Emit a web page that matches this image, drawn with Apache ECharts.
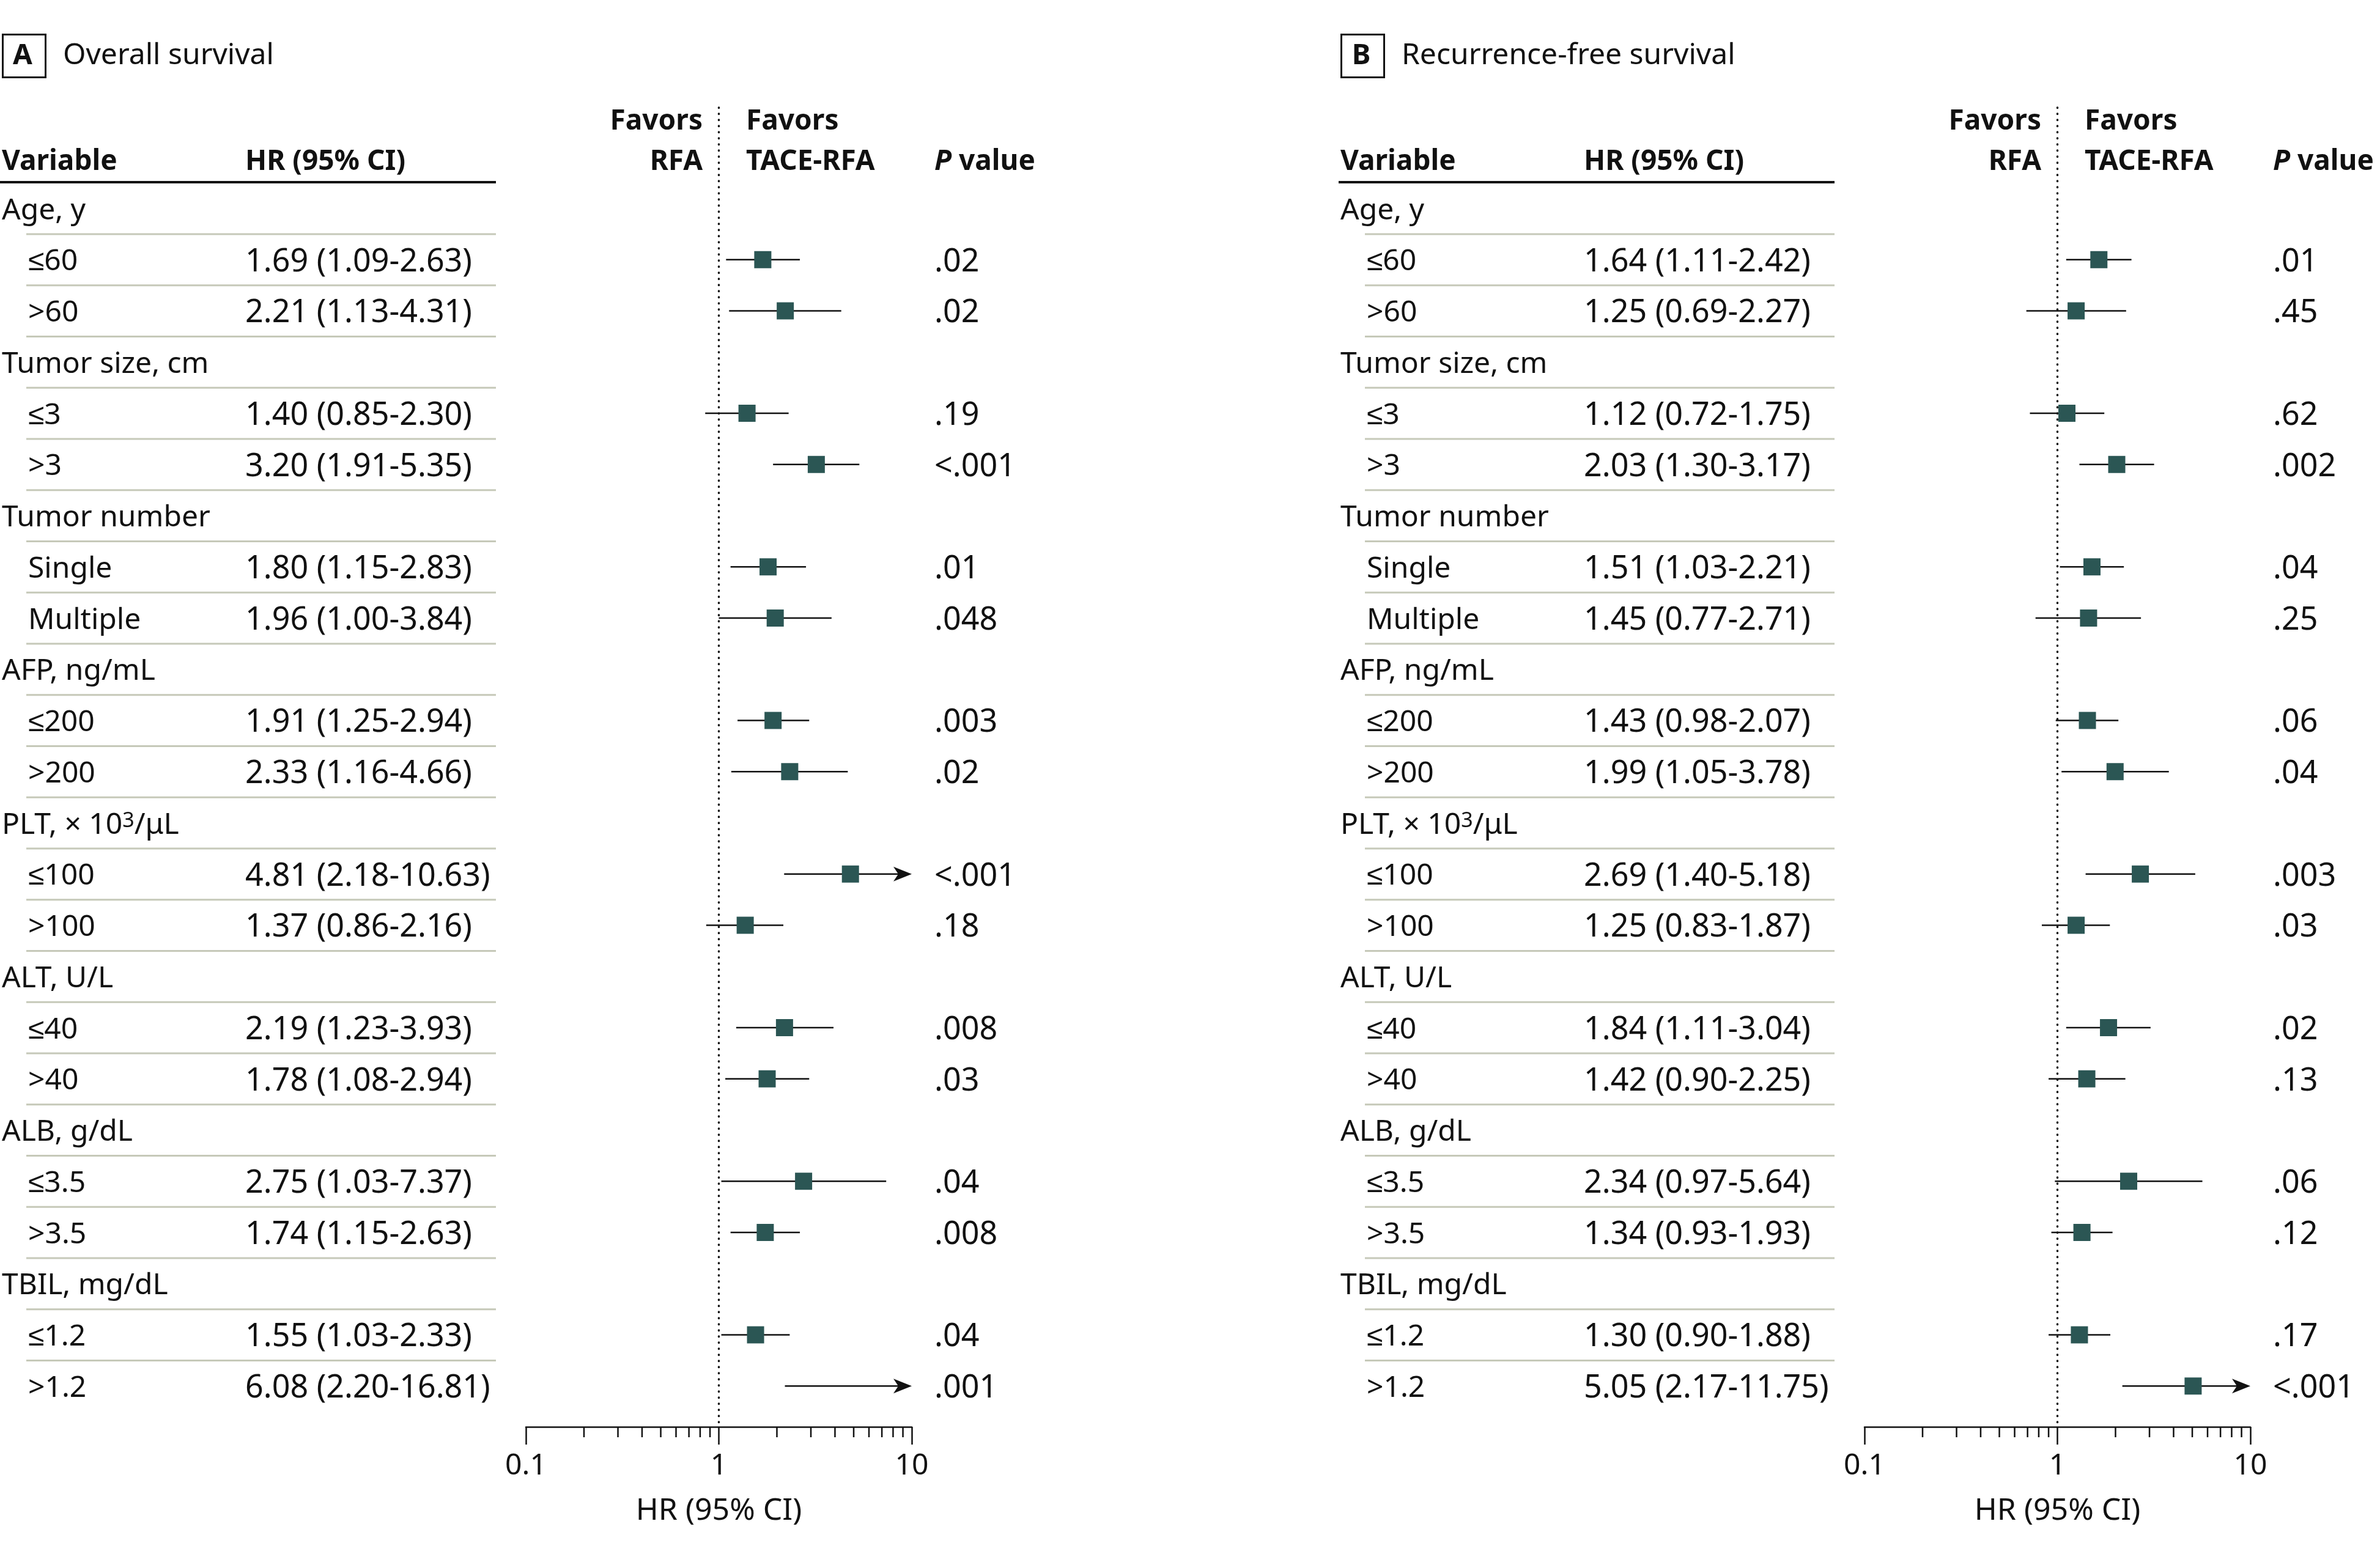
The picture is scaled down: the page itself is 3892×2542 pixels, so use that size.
<!DOCTYPE html>
<html><head><meta charset="utf-8">
<script src="https://cdn.jsdelivr.net/npm/echarts@6/dist/echarts.min.js"></script>
<style>html,body{margin:0;padding:0;background:#fff}#c{width:3892px;height:2542px}</style>
</head><body><div id="c"></div>
<script>
// ---------------- DATA ----------------
const groupNames = ['Age, y', 'Tumor size, cm', 'Tumor number', 'AFP, ng/mL',
  'PLT, × 10{sup|3}/μL', 'ALT, U/L', 'ALB, g/dL', 'TBIL, mg/dL'];
const subgroupNames = ['≤60', '>60', '≤3', '>3', 'Single', 'Multiple', '≤200', '>200',
  '≤100', '>100', '≤40', '>40', '≤3.5', '>3.5', '≤1.2', '>1.2'];

// A  Overall survival
const osHR   = [1.69, 2.21, 1.40, 3.20, 1.80, 1.96, 1.91, 2.33, 4.81, 1.37, 2.19, 1.78, 2.75, 1.74, 1.55, 6.08];
const osLow  = [1.09, 1.13, 0.85, 1.91, 1.15, 1.00, 1.25, 1.16, 2.18, 0.86, 1.23, 1.08, 1.03, 1.15, 1.03, 2.20];
const osHigh = [2.63, 4.31, 2.30, 5.35, 2.83, 3.84, 2.94, 4.66, 10.63, 2.16, 3.93, 2.94, 7.37, 2.63, 2.33, 16.81];
const osP    = ['.02', '.02', '.19', '<.001', '.01', '.048', '.003', '.02', '<.001', '.18', '.008', '.03', '.04', '.008', '.04', '.001'];
const osBoxDrawn = [1, 1, 1, 1, 1, 1, 1, 1, 1, 1, 1, 1, 1, 1, 1, 0]; // the reference shows no square on the last row

// B  Recurrence-free survival
const rfsHR   = [1.64, 1.25, 1.12, 2.03, 1.51, 1.45, 1.43, 1.99, 2.69, 1.25, 1.84, 1.42, 2.34, 1.34, 1.30, 5.05];
const rfsLow  = [1.11, 0.69, 0.72, 1.30, 1.03, 0.77, 0.98, 1.05, 1.40, 0.83, 1.11, 0.90, 0.97, 0.93, 0.90, 2.17];
const rfsHigh = [2.42, 2.27, 1.75, 3.17, 2.21, 2.71, 2.07, 3.78, 5.18, 1.87, 3.04, 2.25, 5.64, 1.93, 1.88, 11.75];
const rfsP    = ['.01', '.45', '.62', '.002', '.04', '.25', '.06', '.04', '.003', '.03', '.02', '.13', '.06', '.12', '.17', '<.001'];
const rfsBoxDrawn = [1, 1, 1, 1, 1, 1, 1, 1, 1, 1, 1, 1, 1, 1, 1, 1];

const axisTicks  = [0.1, 1, 10];
const minorTicks = [0.2, 0.3, 0.4, 0.5, 0.6, 0.7, 0.8, 0.9, 2, 3, 4, 5, 6, 7, 8, 9];
const axisMin = 0.1, axisMax = 10;

// ---------------- LAYOUT ----------------
const FONT = '"Noto Sans", sans-serif';
const INK = '#111111';
const BOX = '#2b5654';
const SEP = '#c6c9b9';
const L = {
  top: 173, bottom: 2334, row0: 341, pitch: 83.75, tableW: 1700,
  forestL: 860, forestW: 631, panelDX: [0, 2189],
  xGroup: 3, xSub: 46, xHR: 401, xP: 1528, xFavL: 1149, xFavR: 1220,
  ruleL: 0, sepL: 43, ruleR: 811, hdr1Y: 195, hdr2Y: 261, ruleY: 298, textDY: 4
};
const yMin = -(L.row0 - L.top) / L.pitch;
const yMax = yMin + (L.bottom - L.top) / L.pitch;
const pxToRow = y => (y - L.row0) / L.pitch;

const fBody = '48px ' + FONT;
const fNum = '52px ' + FONT;
const fHead = 'bold 46px ' + FONT;

const panels = [
  { letter: 'A', title: 'Overall survival', hr: osHR, lo: osLow, hi: osHigh, p: osP, box: osBoxDrawn },
  { letter: 'B', title: 'Recurrence-free survival', hr: rfsHR, lo: rfsLow, hi: rfsHigh, p: rfsP, box: rfsBoxDrawn }
];

const fmt = v => v.toFixed(2);
const subRow = k => Math.floor(k / 2) * 3 + 1 + (k % 2);

const grids = [], xAxes = [], yAxes = [], series = [], graphics = [];

panels.forEach((P, pi) => {
  const dx = L.panelDX[pi];
  const gT = 2 * pi, gF = 2 * pi + 1;
  grids.push({ left: dx, top: L.top, width: L.tableW, height: L.bottom - L.top, containLabel: false });
  grids.push({ left: dx + L.forestL, top: L.top, width: L.forestW, height: L.bottom - L.top, containLabel: false });
  xAxes.push({ type: 'value', gridIndex: gT, min: 0, max: L.tableW, show: false });
  yAxes.push({ type: 'value', gridIndex: gT, min: yMin, max: yMax, inverse: true, show: false });
  xAxes.push({
    type: 'log', logBase: 10, gridIndex: gF, min: axisMin, max: axisMax,
    axisLine: { show: true, onZero: false, lineStyle: { color: INK, width: 2.5 } },
    axisTick: { show: true, length: 29, lineStyle: { color: INK, width: 2.5 } },
    axisLabel: {
      show: true, margin: 40, fontSize: 48, color: INK, fontFamily: FONT,
      formatter: v => {
        const t = axisTicks.find(t => Math.abs(Math.log10(t) - Math.log10(v)) < 1e-6);
        return t === undefined ? '' : String(t);
      }
    },
    splitLine: { show: false }, minorTick: { show: false },
    name: 'HR (95% CI)', nameLocation: 'middle', nameGap: 113,
    nameTextStyle: { fontSize: 50, color: INK, fontFamily: FONT }
  });
  yAxes.push({ type: 'value', gridIndex: gF, min: yMin, max: yMax, inverse: true, show: false });

  // ---- table text ----
  const items = [];
  items.push({ x: L.xFavL, row: pxToRow(L.hdr1Y), text: 'Favors', font: fHead, align: 'right' });
  items.push({ x: L.xFavR, row: pxToRow(L.hdr1Y), text: 'Favors', font: fHead });
  items.push({ x: L.xGroup, row: pxToRow(L.hdr2Y), text: 'Variable', font: fHead });
  items.push({ x: L.xHR, row: pxToRow(L.hdr2Y), text: 'HR (95% CI)', font: fHead });
  items.push({ x: L.xFavL, row: pxToRow(L.hdr2Y), text: 'RFA', font: fHead, align: 'right' });
  items.push({ x: L.xFavR, row: pxToRow(L.hdr2Y), text: 'TACE-RFA', font: fHead });
  items.push({ x: L.xP, row: pxToRow(L.hdr2Y), text: '{it|P} value', font: fHead,
    rich: { it: { font: 'italic bold 46px ' + FONT, fill: INK } } });
  groupNames.forEach((g, gi) => {
    items.push({ x: L.xGroup, row: gi * 3, text: g, font: fBody,
      rich: { sup: { font: '34px ' + FONT, fill: INK, verticalAlign: 'top', padding: [0, 0, 14, 0] } } });
  });
  subgroupNames.forEach((s, k) => {
    const r = subRow(k);
    items.push({ x: L.xSub, row: r, text: s, font: fBody });
    items.push({ x: L.xHR, row: r, text: fmt(P.hr[k]) + ' (' + fmt(P.lo[k]) + '-' + fmt(P.hi[k]) + ')', font: fNum });
    items.push({ x: L.xP, row: r, text: P.p[k], font: fNum });
  });

  // ---- rules ----
  const rules = [{ x1: L.ruleL, x2: L.ruleR, row: pxToRow(L.ruleY), w: 4, c: INK }];
  for (let i = 0; i < 23; i++) rules.push({ x1: L.sepL, x2: L.ruleR, row: i + 0.5, w: 3, c: SEP });

  series.push({
    type: 'custom', name: 'rules' + pi, xAxisIndex: gT, yAxisIndex: gT, clip: false, silent: true,
    data: rules.map(r => [r.x1, r.row, r.x2]),
    renderItem: (params, api) => {
      const r = rules[params.dataIndex];
      const a = api.coord([r.x1, r.row]), b = api.coord([r.x2, r.row]);
      return { type: 'line', shape: { x1: a[0], y1: a[1], x2: b[0], y2: b[1] }, style: { stroke: r.c, lineWidth: r.w } };
    }
  });
  series.push({
    type: 'custom', name: 'text' + pi, xAxisIndex: gT, yAxisIndex: gT, clip: false, silent: true,
    data: items.map(t => [t.x, t.row]),
    renderItem: (params, api) => {
      const t = items[params.dataIndex];
      const p = api.coord([api.value(0), api.value(1)]);
      return { type: 'text', x: p[0], y: p[1] + L.textDY,
        style: { text: t.text, font: t.font, fill: INK, align: t.align || 'left', verticalAlign: 'middle', rich: t.rich } };
    }
  });

  // ---- reference line at HR = 1 ----
  series.push({
    type: 'custom', name: 'ref' + pi, xAxisIndex: gF, yAxisIndex: gF, clip: false, silent: true,
    data: [[1, 0]],
    renderItem: (params, api) => {
      const a = api.coord([api.value(0), yMin]), b = api.coord([api.value(0), yMax]);
      return { type: 'line', shape: { x1: a[0], y1: a[1] + 3, x2: b[0], y2: b[1] - 4 },
        style: { stroke: INK, lineWidth: 3.5, lineDash: [0.5, 9.5], lineCap: 'round' } };
    }
  });
  // ---- minor ticks ----
  series.push({
    type: 'custom', name: 'minor' + pi, xAxisIndex: gF, yAxisIndex: gF, clip: false, silent: true,
    data: minorTicks.map(v => [v, yMax]),
    renderItem: (params, api) => {
      const a = api.coord([api.value(0), api.value(1)]);
      return { type: 'line', shape: { x1: a[0], y1: a[1], x2: a[0], y2: a[1] + 17 }, style: { stroke: INK, lineWidth: 2.5 } };
    }
  });
  // ---- forest marks ----
  series.push({
    type: 'custom', name: 'forest' + pi, xAxisIndex: gF, yAxisIndex: gF, clip: false, silent: true,
    dimensions: ['hr', 'row', 'lo', 'hi', 'box'],
    encode: { x: 0, y: 1 },
    data: P.hr.map((h, k) => [h, subRow(k), P.lo[k], P.hi[k], P.box[k]]),
    renderItem: (params, api) => {
      const hr = api.value(0), row = api.value(1), lo = api.value(2), hi = api.value(3), box = api.value(4);
      const over = hi > axisMax;
      const pLo = api.coord([Math.max(lo, axisMin), row]);
      const pHi = api.coord([Math.min(hi, axisMax), row]);
      const pHr = api.coord([hr, row]);
      const ch = [];
      ch.push({ type: 'line', shape: { x1: pLo[0], y1: pLo[1], x2: over ? pHi[0] - 22 : pHi[0], y2: pHi[1] },
        style: { stroke: INK, lineWidth: 2.5 } });
      if (over) ch.push({ type: 'polygon',
        shape: { points: [[pHi[0], pHi[1]], [pHi[0] - 30, pHi[1] - 12], [pHi[0] - 22, pHi[1]], [pHi[0] - 30, pHi[1] + 12]] },
        style: { fill: INK } });
      if (box) ch.push({ type: 'rect', shape: { x: pHr[0] - 14, y: pHr[1] - 14, width: 28, height: 28 }, style: { fill: BOX } });
      return { type: 'group', children: ch };
    }
  });

  // ---- panel title ----
  graphics.push({ type: 'rect', left: dx + 2, top: 54, shape: { width: 70, height: 70 },
    style: { fill: 'none', stroke: INK, lineWidth: 3 } });
  graphics.push({ type: 'text', x: dx + 37, y: 92,
    style: { text: P.letter, font: 'bold 46px ' + FONT, fill: INK, align: 'center', verticalAlign: 'middle' } });
  graphics.push({ type: 'text', x: dx + 103, y: 91,
    style: { text: P.title, font: '48px ' + FONT, fill: INK, align: 'left', verticalAlign: 'middle' } });
});

const chart = echarts.init(document.getElementById('c'), null, { renderer: 'canvas', width: 3892, height: 2542 });
chart.setOption({
  animation: false,
  backgroundColor: '#ffffff',
  textStyle: { fontFamily: FONT },
  grid: grids, xAxis: xAxes, yAxis: yAxes, series: series, graphic: graphics
});
</script></body></html>
